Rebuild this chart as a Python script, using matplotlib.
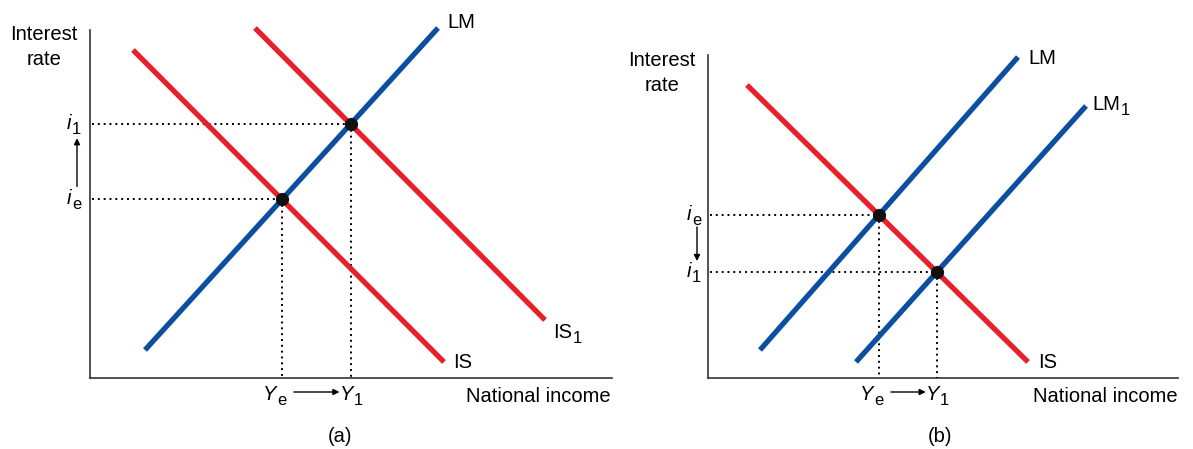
import matplotlib.pyplot as plt
import numpy as np

plt.rcParams['font.family'] = 'Liberation Sans'

RED = '#e8202a'
BLUE = '#0c4ea2'

# curve endpoints (pixel space, y grows downward)
# panel (a)
a_axis = {'x0': 90, 'y0': 378, 'top': 30, 'right': 612}
a_is = [(133, 50), (444, 362)]
a_is1 = [(255, 28), (545, 320)]
a_lm = [(145, 350), (438, 28)]
# panel (b)
b_axis = {'x0': 708, 'y0': 378, 'top': 55, 'right': 1178}
b_is = [(747, 85), (1028, 362)]
b_lm = [(760, 350), (1018, 57)]
b_lm1 = [(856, 362), (1086, 106)]

fs = 14.5
arrow = dict(arrowstyle='-|>', color='black', lw=1.0, mutation_scale=9, shrinkA=0, shrinkB=0)


def cross(l1, l2):
    (x1, y1), (x2, y2) = l1
    (x3, y3), (x4, y4) = l2
    d = (x1 - x2) * (y3 - y4) - (y1 - y2) * (x3 - x4)
    t = ((x1 - x3) * (y3 - y4) - (y1 - y3) * (x3 - x4)) / d
    return x1 + t * (x2 - x1), y1 + t * (y2 - y1)


def draw_line(ax, seg, color):
    xs, ys = zip(*seg)
    ax.plot(xs, ys, color=color, lw=3.8, solid_capstyle='butt', zorder=3)


def draw_axes(ax, a):
    ax.plot([a['x0'], a['x0']], [a['top'], a['y0']], color='#333333', lw=1.2)
    ax.plot([a['x0'], a['right']], [a['y0'], a['y0']], color='#333333', lw=1.2)


def guide(ax, pt, x0, y0):
    x, y = pt
    ax.plot([x0 + 2, x], [y, y], color='black', lw=1.4, ls=(0, (1, 2.0)), zorder=2)
    ax.plot([x, x], [y, y0], color='black', lw=1.4, ls=(0, (1, 2.0)), zorder=2)
    ax.plot([x], [y], 'o', color='#111111', ms=8.5, zorder=5)


def sublabel(ax, x, y, main, sub, italic=True):
    # main text with its left edge at x and baseline at y, subscript dropped after it
    t = ax.text(x, y, main, ha='left', va='baseline', fontsize=fs,
                style='italic' if italic else 'normal')
    ax.annotate(sub, xy=(1, 0), xycoords=t, xytext=(0.5, -1), textcoords='offset pixels',
                ha='left', va='baseline', fontsize=fs * 0.82)


fig = plt.figure(figsize=(11.93, 4.49), dpi=100)
ax = fig.add_axes([0, 0, 1, 1])
ax.set_xlim(0, 1193)
ax.set_ylim(449, 0)
ax.axis('off')

# ---- panel (a)
draw_axes(ax, a_axis)
draw_line(ax, a_is, RED)
draw_line(ax, a_is1, RED)
draw_line(ax, a_lm, BLUE)
pe = cross(a_is, a_lm)
p1 = cross(a_is1, a_lm)
guide(ax, pe, a_axis['x0'], a_axis['y0'])
guide(ax, p1, a_axis['x0'], a_axis['y0'])

ax.text(44, 47, 'Interest\nrate', ha='center', va='center', fontsize=fs, linespacing=1.35)
ax.text(538, 396, 'National income', ha='center', va='center', fontsize=fs)
ax.text(340, 437, '(a)', ha='center', va='center', fontsize=fs)
ax.text(447, 22, 'LM', ha='left', va='center', fontsize=fs)
ax.text(453, 362, 'IS', ha='left', va='center', fontsize=fs)
sublabel(ax, 553, 338, 'IS', '1', italic=False)
sublabel(ax, 67, p1[1] + 5, 'i', '1')
sublabel(ax, 67, pe[1] + 5, 'i', 'e')
ax.annotate('', xy=(77, p1[1] + 14), xytext=(77, pe[1] - 13), arrowprops=arrow)
sublabel(ax, pe[0] - 19, 400, 'Y', 'e')
sublabel(ax, p1[0] - 11, 400, 'Y', '1')
ax.annotate('', xy=(p1[0] - 11, 392), xytext=(pe[0] + 12, 392), arrowprops=arrow)

# ---- panel (b)
draw_axes(ax, b_axis)
draw_line(ax, b_is, RED)
draw_line(ax, b_lm, BLUE)
draw_line(ax, b_lm1, BLUE)
qe = cross(b_is, b_lm)
q1 = cross(b_is, b_lm1)
guide(ax, qe, b_axis['x0'], b_axis['y0'])
guide(ax, q1, b_axis['x0'], b_axis['y0'])

ax.text(662, 73, 'Interest\nrate', ha='center', va='center', fontsize=fs, linespacing=1.35)
ax.text(1105, 396, 'National income', ha='center', va='center', fontsize=fs)
ax.text(940, 437, '(b)', ha='center', va='center', fontsize=fs)
ax.text(1028, 58, 'LM', ha='left', va='center', fontsize=fs)
sublabel(ax, 1092, 110, 'LM', '1', italic=False)
ax.text(1038, 362, 'IS', ha='left', va='center', fontsize=fs)
sublabel(ax, 687, qe[1] + 5, 'i', 'e')
sublabel(ax, 687, q1[1] + 5, 'i', '1')
ax.annotate('', xy=(697, q1[1] - 11), xytext=(697, qe[1] + 12), arrowprops=arrow)
sublabel(ax, qe[0] - 19, 400, 'Y', 'e')
sublabel(ax, q1[0] - 11, 400, 'Y', '1')
ax.annotate('', xy=(q1[0] - 11, 392), xytext=(qe[0] + 12, 392), arrowprops=arrow)

fig.savefig('out.png', dpi=100)
